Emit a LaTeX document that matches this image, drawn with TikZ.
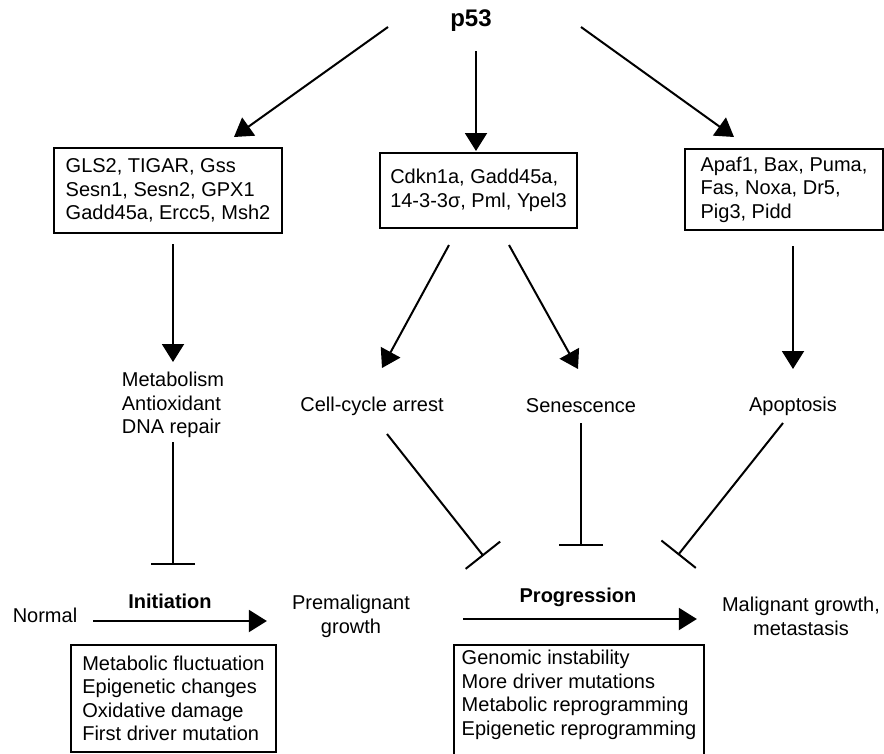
\documentclass[tikz,border=0pt]{standalone}
\usepackage{fontspec}
\setmainfont{Liberation Sans}
\usetikzlibrary{arrows.meta,calc}

\begin{document}
\begin{tikzpicture}[x=1pt, y=-1pt, inner sep=2pt, font=\fontsize{20}{23.5}\selectfont,
    arr/.style={line width=2pt, -{Triangle[length=18pt, width=22pt]}},
    inh/.style={line width=2pt, -{Bar[width=44pt, line width=2pt]}},
    genebox/.style={draw, line width=2pt, align=left}]
    \clip (0,0) rectangle (884,753);

    % p53 and its targets
    \node[font=\fontsize{24}{28}\selectfont\bfseries] (P) at (471,21) {p53};
    \node[genebox, minimum width=228pt, minimum height=85pt] (G1) at (168,190.5) {GLS2, TIGAR, Gss\\Sesn1, Sesn2, GPX1\\Gadd45a, Ercc5, Msh2};
    \node[genebox, minimum width=197pt, minimum height=75pt] (G2) at (478.5,190.5) {Cdkn1a, Gadd45a,\\14-3-3σ, Pml, Ypel3};
    \node[genebox, minimum width=198pt, minimum height=81pt] (G3) at (784,189.5) {Apaf1, Bax, Puma,\\Fas, Noxa, Dr5,\\Pig3, Pidd};

    % outcomes
    \node[align=left] (F1) at (173,405) {Metabolism\\Antioxidant\\DNA repair};
    \node (F2) at (372,406) {Cell-cycle arrest};
    \node (F3) at (581,406) {Senescence};
    \node (F4) at (793,406) {Apoptosis};

    % tumour stages
    \node (N) at (45,615) {Normal};
    \node[align=center] (PM) at (351,616.5) {Premalignant\\growth};
    \node[align=center] (M) at (801,616.5) {Malignant growth,\\metastasis};
    \node[font=\fontsize{20}{23.5}\selectfont\bfseries] (L1) at (170,601) {Initiation};
    \node[font=\fontsize{20}{23.5}\selectfont\bfseries] (L2) at (578,597) {Progression};

    \node[genebox, minimum width=205pt, minimum height=107pt] (B1) at (173.5,698.5) {Metabolic fluctuation\\Epigenetic changes\\Oxidative damage\\First driver mutation};
    \node[align=left, minimum width=250pt, inner ysep=5pt, anchor=north] (B2) at (579,645) {Genomic instability\\More driver mutations\\Metabolic reprogramming\\Epigenetic reprogramming};
    \draw[line width=2pt] ($(B2.south west)+(0,30)$) -- (B2.north west) -- (B2.north east) -- ($(B2.south east)+(0,30)$);

    \coordinate (T1) at (173,565);
    \coordinate (T2) at (483.5,556);
    \coordinate (T3) at (581,546);
    \coordinate (T4) at (678,555);

    \draw[arr] ($(P)+(-83,6)$) -- ($(G1.north)+(66,-10)$);
    \draw[arr] ($(P)+(5,30)$) -- ($(G2.north)+(-2.5,-1)$);
    \draw[arr] ($(P)+(110,6)$) -- ($(G3.north)+(-50,-11)$);

    \draw[arr] ($(G1.south)+(5,10)$) -- ($(F1)+(0,-43)$);
    \draw[arr] ($(G2.south)+(-29.5,16)$) -- ($(F2)+(10,-38)$);
    \draw[arr] ($(G2.south)+(30.5,16)$) -- ($(F3)+(-3,-37)$);
    \draw[arr] ($(G3.south)+(9,15)$) -- ($(F4)+(0,-37)$);

    \draw[inh] ($(F1)+(0,37)$) -- (T1);
    \draw[inh] ($(F2)+(15,28)$) -- (T2);
    \draw[inh] ($(F3)+(0,17)$) -- (T3);
    \draw[inh] ($(F4)+(-10,17)$) -- (T4);

    \draw[arr] ($(N.east)+(14,6)$) -- ($(PM.west)+(-23,4.5)$);
    \draw[arr] ($(PM.east)+(51,2.5)$) -- ($(M.west)+(-23,2.5)$);
\end{tikzpicture}
\end{document}
